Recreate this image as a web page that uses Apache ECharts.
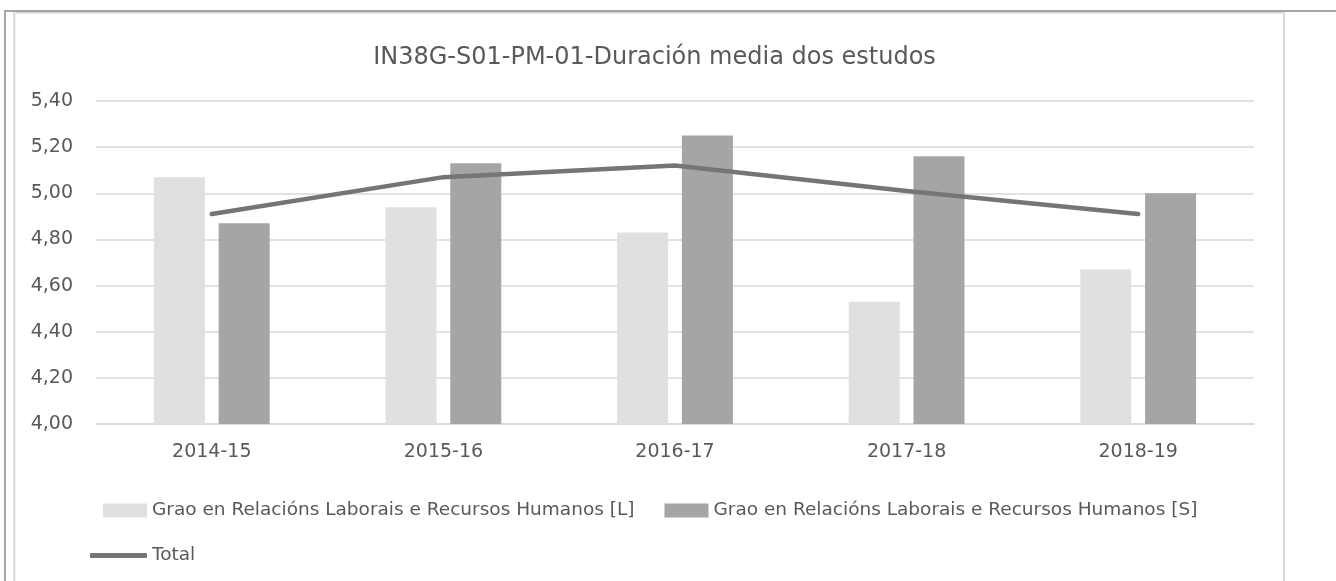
<!DOCTYPE html>
<html>
<head>
<meta charset="utf-8">
<script src="https://cdn.jsdelivr.net/npm/echarts@6/dist/echarts.min.js"></script>
<style>
html,body{margin:0;padding:0;background:#fff;}
#chart{width:1336px;height:581px;}
</style>
</head>
<body>
<div id="chart"></div>
<script>
var titleText = 'IN38G-S01-PM-01-Duración media dos estudos';
var categories = ['2014-15', '2015-16', '2016-17', '2017-18', '2018-19'];
var seriesNames = ['Grao en Relacións Laborais e Recursos Humanos [L]', 'Grao en Relacións Laborais e Recursos Humanos [S]', 'Total'];
var valuesL = [5.07, 4.94, 4.83, 4.53, 4.67];
var valuesS = [4.87, 5.13, 5.25, 5.16, 5.00];
var valuesTotal = [4.91, 5.07, 5.12, 5.01, 4.91];
var yMin = 4.0, yMax = 5.4, yStep = 0.2;

var FONT = 'DejaVu Sans';
var TXT = '#595959';

var chart = echarts.init(document.getElementById('chart'), null, {renderer: 'canvas'});
var option = {
  animation: false,
  backgroundColor: '#ffffff',
  title: {
    text: titleText,
    left: 649.5,
    top: 38,
    textAlign: 'center',
    textStyle: {fontFamily: FONT, fontSize: 24, fontWeight: 'normal', color: TXT, lineHeight: 30}
  },
  grid: {left: 96, right: 82, top: 101, bottom: 157, containLabel: false},
  xAxis: {
    type: 'category',
    data: categories,
    axisLine: {show: true, lineStyle: {color: '#d9d9d9', width: 1.5}},
    axisTick: {show: false},
    axisLabel: {fontFamily: FONT, fontSize: 19, color: TXT, margin: 17, lineHeight: 22}
  },
  yAxis: {
    type: 'value',
    min: yMin, max: yMax, interval: yStep,
    axisLine: {show: false},
    axisTick: {show: false},
    splitLine: {lineStyle: {color: '#d9d9d9', width: 1.5}},
    axisLabel: {
      fontFamily: FONT, fontSize: 19, color: TXT, margin: 23,
      formatter: function (v) { return v.toFixed(2).replace('.', ','); }
    }
  },
  legend: [
    {
      data: [seriesNames[0], seriesNames[1]],
      left: 98, top: 496,
      itemWidth: 44, itemHeight: 14, itemGap: 30,
      icon: 'rect',
      textStyle: {fontFamily: FONT, fontSize: 18.5, color: TXT}
    },
    {
      data: [{name: seriesNames[2], icon: 'roundRect'}],
      left: 85, top: 541,
      itemWidth: 57, itemHeight: 5,
      textStyle: {fontFamily: FONT, fontSize: 18.5, color: TXT}
    }
  ],
  series: [
    {
      name: seriesNames[0], type: 'bar', data: valuesL,
      barWidth: 51, barGap: '27%',
      itemStyle: {color: '#e0e0e0'}
    },
    {
      name: seriesNames[1], type: 'bar', data: valuesS,
      barWidth: 51, barGap: '27%',
      itemStyle: {color: '#a5a5a5'}
    },
    {
      name: seriesNames[2], type: 'line', data: valuesTotal,
      symbol: 'none', z: 5,
      lineStyle: {color: '#757575', width: 4.5, cap: 'round', join: 'round'},
      itemStyle: {color: '#757575'}
    }
  ],
  graphic: [
    {type: 'line', silent: true, shape: {x1: 4, y1: 11, x2: 1336, y2: 11}, style: {stroke: '#a6a6a6', lineWidth: 2}},
    {type: 'line', silent: true, shape: {x1: 5, y1: 10, x2: 5, y2: 581}, style: {stroke: '#a6a6a6', lineWidth: 2}},
    {type: 'line', silent: true, shape: {x1: 13, y1: 12.7, x2: 1285, y2: 12.7}, style: {stroke: '#d4d4d4', lineWidth: 1.5}},
    {type: 'line', silent: true, shape: {x1: 14.2, y1: 12, x2: 14.2, y2: 581}, style: {stroke: '#e0e0e0', lineWidth: 2.5}},
    {type: 'line', silent: true, shape: {x1: 1284, y1: 12, x2: 1284, y2: 581}, style: {stroke: '#dadada', lineWidth: 2}}
  ]
};
chart.setOption(option);
</script>
</body>
</html>
